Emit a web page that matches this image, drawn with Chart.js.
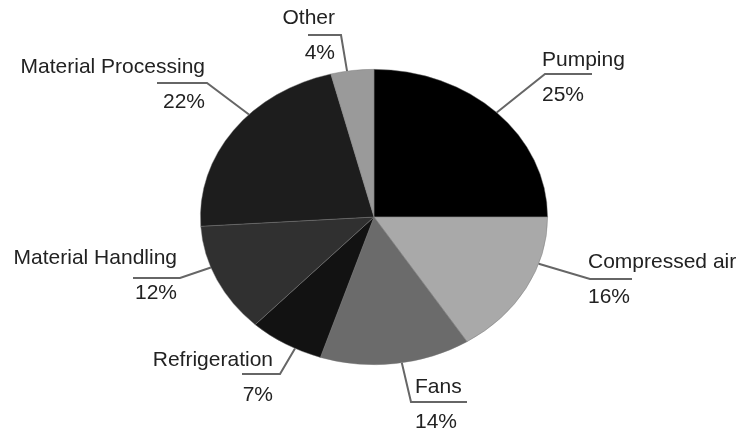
<!DOCTYPE html>
<html>
<head>
<meta charset="utf-8">
<script src="https://cdn.jsdelivr.net/npm/chart.js@4"></script>
<style>
  html, body { margin: 0; padding: 0; background: #fff; }
  #wrap { width: 740px; height: 432px; }
</style>
</head>
<body>
<div id="wrap"><canvas id="pieChart" width="740" height="432"></canvas></div>
<script>
// Data (clockwise from 12 o'clock)
const categories = ['Pumping', 'Compressed air', 'Fans', 'Refrigeration', 'Material Handling', 'Material Processing', 'Other'];
const shares = [25, 16, 14, 7, 12, 22, 4];
const sliceColors = ['#000000', '#a9a9a9', '#6b6b6b', '#121212', '#303030', '#1d1d1d', '#9a9a9a'];

// Label layout: where the leader touches the slice (fraction of its span),
// elbow point, end of the horizontal tick, text anchor and alignment
const labelLayout = [
    { frac: 0.50, elbow: [545, 74],  end: [592, 74],  tx: 542, ty: 60,  align: 'left' },
    { frac: 0.32, elbow: [590, 279], end: [632, 279], tx: 588, ty: 262, align: 'left' },
    { frac: 0.46, elbow: [411, 402], end: [467, 402], tx: 415, ty: 387, align: 'left' },
    { frac: 0.36, elbow: [280, 374], end: [242, 374], tx: 273, ty: 360, align: 'right' },
    { frac: 0.62, elbow: [180, 278], end: [133, 278], tx: 177, ty: 258, align: 'right' },
    { frac: 0.60, elbow: [207, 83],  end: [157, 83],  tx: 205, ty: 67,  align: 'right' },
    { frac: 0.38, elbow: [341, 35],  end: [308, 35],  tx: 335, ty: 18,  align: 'right' }
];

// the pie in the picture is squashed vertically
const Y_SQUASH = 148 / 174;

const ellipsePlugin = {
    id: 'ellipse',
    beforeDatasetsDraw(chart) {
        const arc = chart.getDatasetMeta(0).data[0];
        const ctx = chart.ctx;
        ctx.save();
        ctx.translate(arc.x, arc.y);
        ctx.scale(1, Y_SQUASH);
        ctx.translate(-arc.x, -arc.y);
    },
    afterDatasetsDraw(chart) {
        chart.ctx.restore();
    }
};

const leaderPlugin = {
    id: 'leaders',
    afterDraw(chart) {
        const ctx = chart.ctx;
        const arcs = chart.getDatasetMeta(0).data;
        ctx.save();
        ctx.font = '21px "Liberation Sans", Arial, sans-serif';
        ctx.textBaseline = 'middle';
        arcs.forEach((arc, i) => {
            const lay = labelLayout[i];
            const a = arc.startAngle + (arc.endAngle - arc.startAngle) * lay.frac;
            const r = arc.outerRadius;
            const sx = arc.x + Math.cos(a) * r;
            const sy = arc.y + Math.sin(a) * r * Y_SQUASH;

            ctx.strokeStyle = '#666';
            ctx.lineWidth = 2;
            ctx.beginPath();
            ctx.moveTo(sx, sy);
            ctx.lineTo(lay.elbow[0], lay.elbow[1]);
            ctx.lineTo(lay.end[0], lay.end[1]);
            ctx.stroke();

            ctx.fillStyle = '#222';
            ctx.textAlign = lay.align;
            ctx.fillText(categories[i], lay.tx, lay.ty);
            ctx.fillText(shares[i] + '%', lay.tx, lay.ty + 35);
        });
        ctx.restore();
    }
};

new Chart(document.getElementById('pieChart').getContext('2d'), {
    type: 'pie',
    data: {
        labels: categories,
        datasets: [{
            data: shares,
            backgroundColor: sliceColors,
            borderColor: 'rgba(120,120,120,0.6)',
            borderWidth: 0.8
        }]
    },
    options: {
        responsive: false,
        animation: false,
        layout: { padding: { left: 200, right: 192, top: 43, bottom: 41 } },
        plugins: {
            legend: { display: false },
            tooltip: { enabled: false }
        }
    },
    plugins: [ellipsePlugin, leaderPlugin]
});
</script>
</body>
</html>
